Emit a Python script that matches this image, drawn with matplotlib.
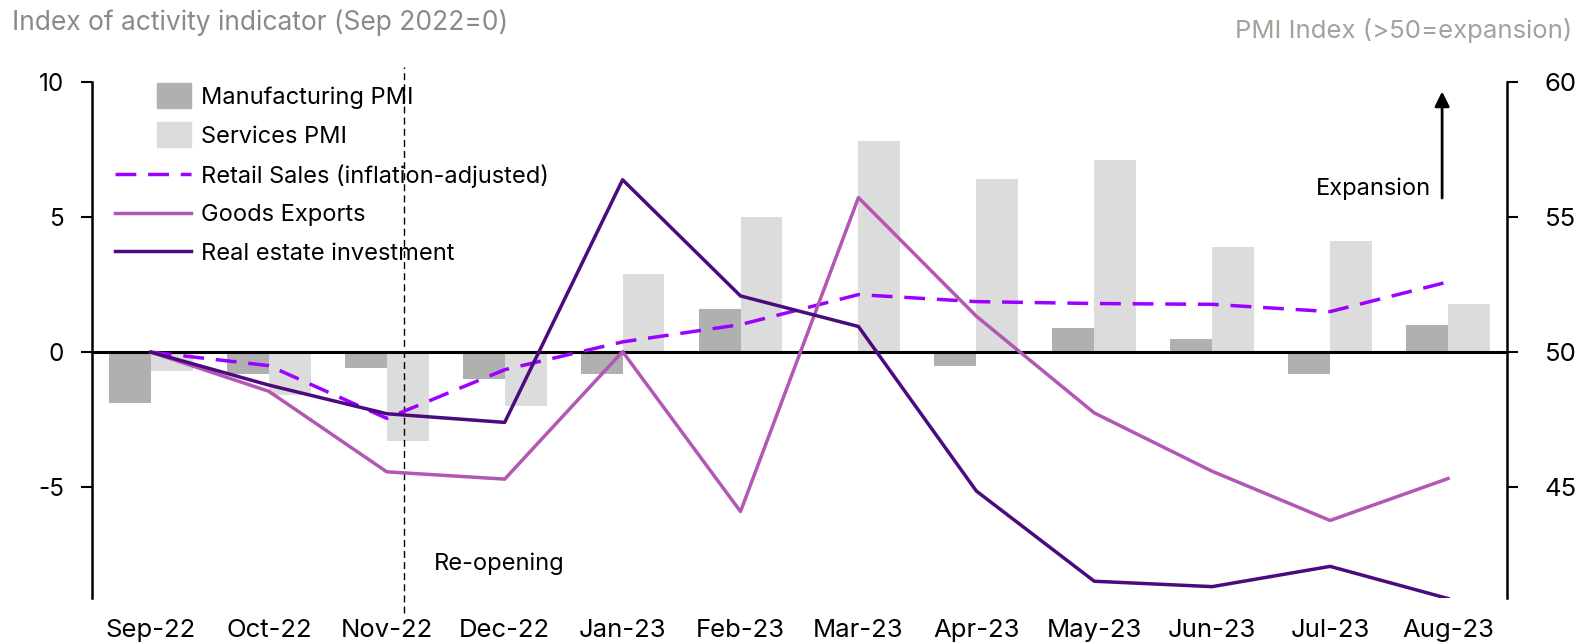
import numpy as np
import matplotlib
matplotlib.use('Agg')
import matplotlib.pyplot as plt
import matplotlib.patches as mpatches
from matplotlib.lines import Line2D
from matplotlib.legend_handler import HandlerPatch

plt.rcParams['font.family'] = ['Inter', 'DejaVu Sans']
plt.rcParams['axes.unicode_minus'] = False

# data
meses = ['Sep-22', 'Oct-22', 'Nov-22', 'Dec-22', 'Jan-23', 'Feb-23',
         'Mar-23', 'Apr-23', 'May-23', 'Jun-23', 'Jul-23', 'Aug-23']
pmi_manuf = [48.1, 49.2, 49.4, 49.0, 49.2, 51.6, 50.0, 49.5, 50.9, 50.5, 49.2, 51.0]
pmi_serv = [49.3, 48.4, 46.7, 48.0, 52.9, 55.0, 57.8, 56.4, 57.1, 53.9, 54.1, 51.8]
retail = [0, -0.5, -2.45, -0.65, 0.38, 1.02, 2.13, 1.87, 1.8, 1.77, 1.5, 2.6]
exports = [0, -1.45, -4.43, -4.7, 0.02, -5.9, 5.72, 1.33, -2.25, -4.41, -6.23, -4.68]
real_estate = [0, -1.22, -2.28, -2.6, 6.38, 2.08, 0.95, -5.14, -8.48, -8.68, -7.93, -9.12]

cor_manuf = '#b0b0b0'
cor_serv = '#dcdcdc'
cor_retail = '#9c00ff'
cor_exports = '#b357b5'
cor_real = '#4b0a7d'

x = np.arange(len(meses))
w = 0.355

fig = plt.figure(figsize=(15.75, 6.43), dpi=100)
ax = fig.add_axes([0.0584, 0.070, 0.8984, 0.8025])
ax2 = ax.twinx()

# barras no eixo PMI (50 = base)
ax2.bar(x - w / 2, np.array(pmi_manuf) - 50, width=w, bottom=50, color=cor_manuf)
ax2.bar(x + w / 2, np.array(pmi_serv) - 50, width=w, bottom=50, color=cor_serv)
ax2.set_ylim(40.9, 60)
ax2.set_yticks([45, 50, 55, 60])

# linhas no eixo esquerdo, desenhadas por cima
ax.set_zorder(ax2.get_zorder() + 1)
ax.patch.set_visible(False)
ax.axhline(0, color='black', lw=2.2, zorder=1)
ax.plot(x, retail, color=cor_retail, lw=2.5, dashes=(6, 3.4), zorder=3)
ax.plot(x, exports, color=cor_exports, lw=2.5, zorder=3)
ax.plot(x, real_estate, color=cor_real, lw=2.5, zorder=4)

ax.set_xlim(-0.5, 11.5)
ax.set_ylim(-9.1, 10)
ax.set_yticks([-5, 0, 5, 10])
ax.set_xticks(x)
ax.set_xticklabels(meses)

for a in (ax, ax2):
    for s in ('top', 'bottom'):
        a.spines[s].set_visible(False)
ax.tick_params(axis='y', direction='out', length=8, width=1.5, labelsize=17.5, pad=12)
ax2.tick_params(axis='y', direction='out', length=8, width=1.5, labelsize=18.5, pad=19)
ax.spines['right'].set_visible(False)
ax2.spines['left'].set_visible(False)
ax.spines['left'].set_linewidth(1.8)
ax2.spines['right'].set_linewidth(1.8)
ax.tick_params(axis='x', length=0, labelsize=18.5, pad=15)

# re-opening
ax.axvline(2.15, ymin=-0.03, ymax=1.03, color='black', lw=1, dashes=(5, 3), clip_on=False, zorder=2)
ax.text(2.4, -7.85, 'Re-opening', fontsize=17, va='center', ha='left')

# expansion arrow
ax.annotate('', xy=(10.95, 9.75), xytext=(10.95, 5.6),
            arrowprops=dict(arrowstyle='-|>', color='black', lw=2, mutation_scale=22))
ax.text(10.86, 6.05, 'Expansion', fontsize=17, ha='right', va='center')

# titles
fig.text(0.0076, 0.965, 'Index of activity indicator (Sep 2022=0)', fontsize=19,
         color='#8a8a8a', ha='left', va='center')
fig.text(0.9985, 0.953, 'PMI Index (>50=expansion)', fontsize=18.5,
         color='#a2a39b', ha='right', va='center')


def small_patch(legend, orig_handle, xdescent, ydescent, width, height, fontsize):
    pw = width * 0.45
    return mpatches.Rectangle((width - pw - xdescent, -ydescent - height * 0.25),
                              pw, height * 1.5)


handles = [
    mpatches.Patch(color=cor_manuf, label='Manufacturing PMI'),
    mpatches.Patch(color=cor_serv, label='Services PMI'),
    Line2D([], [], color=cor_retail, lw=2.5, dashes=(6, 3.4), label='Retail Sales (inflation-adjusted)'),
    Line2D([], [], color=cor_exports, lw=2.5, label='Goods Exports'),
    Line2D([], [], color=cor_real, lw=2.5, label='Real estate investment'),
]
ax.legend(handles=handles, loc='upper left', bbox_to_anchor=(0.008, 1.014), frameon=False,
          fontsize=17, handlelength=3.2, handletextpad=0.45, labelspacing=0.7, borderpad=0,
          handler_map={mpatches.Patch: HandlerPatch(patch_func=small_patch)})

fig.savefig('out.png', dpi=100)
